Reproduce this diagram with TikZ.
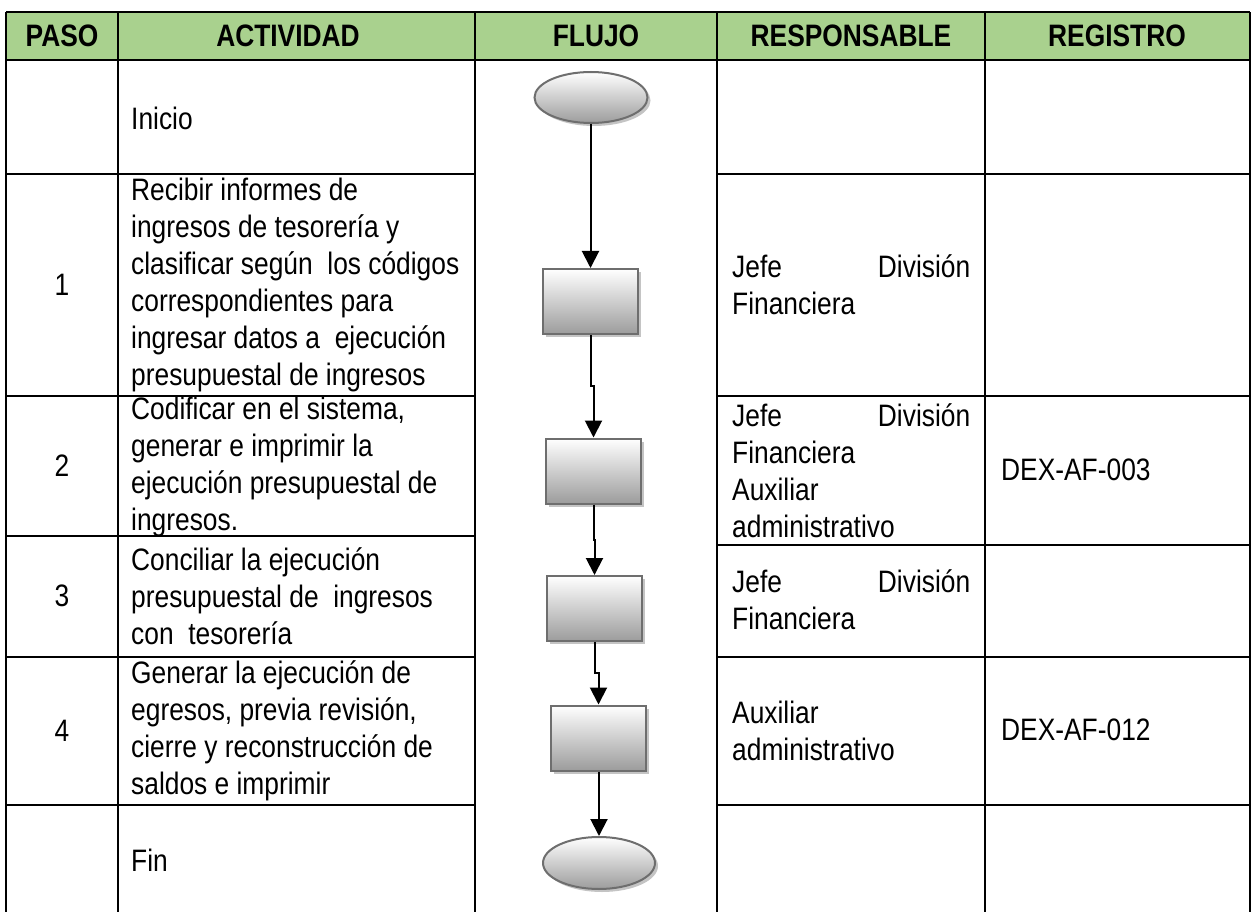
\documentclass[tikz,border=0pt]{standalone}
\usepackage{fontspec}
\setmainfont{Liberation Sans}[FakeStretch=0.85]
\usetikzlibrary{arrows.meta,shapes.geometric,shadows,calc}
\definecolor{hdr}{HTML}{A9D18E}
\definecolor{shapeborder}{HTML}{6E6E6E}
\definecolor{shapebottom}{HTML}{9C9C9C}
\definecolor{shadowgray}{HTML}{C4C4C4}
\begin{document}
\begin{tikzpicture}[x=1pt,y=-1pt,
  grid/.style={line width=1.8pt,black},
  hdrtext/.style={font=\fontsize{31}{37}\selectfont\bfseries, anchor=center, inner sep=0pt},
  body/.style={font=\fontsize{31}{37}\selectfont, align=left, anchor=west, inner sep=0pt},
  num/.style={font=\fontsize{31}{37}\selectfont, anchor=center, inner sep=0pt},
  myshadow/.style={drop shadow={shadow xshift=3pt, shadow yshift=-3pt, fill=shadowgray, opacity=1}},
  procbox/.style={rectangle, draw=shapeborder, line width=2pt, minimum width=95pt, minimum height=65pt, inner sep=0pt, top color=white, bottom color=shapebottom, myshadow},
  termnode/.style={ellipse, draw=shapeborder, line width=2pt, minimum width=113pt, minimum height=51pt, inner sep=0pt, top color=white, bottom color=shapebottom, myshadow},
  flow/.style={line width=2pt, -{Triangle[width=17pt,length=17pt]}}
]
\useasboundingbox (0,0) rectangle (1256,912);
\fill[white] (0,0) rectangle (1256,912);
% header
\fill[hdr] (6,12) rectangle (1250,60);
% grid
\draw[grid] (6,12) -- (1250,12);
\draw[grid] (6,60) -- (1250,60);
\foreach \x in {6,118,475,717,985,1250} {\draw[grid] (\x,12) -- (\x,912);}
\foreach \y in {174,396,536,657,805} {\draw[grid] (6,\y) -- (475,\y);}
\foreach \y in {174,396,545,657,805} {\draw[grid] (717,\y) -- (1250,\y);}
% header texts
\node[hdrtext] (hpaso) at (62,36) {PASO};
\node[hdrtext] (hact) at (288,36) {ACTIVIDAD};
\node[hdrtext] (hflujo) at (596,36) {FLUJO};
\node[hdrtext] (hresp) at (851,36) {RESPONSABLE};
\node[hdrtext] (hreg) at (1117,36) {REGISTRO};
% paso numbers
\node[num] (n1) at (62,285) {1};
\node[num] (n2) at (62,466) {2};
\node[num] (n3) at (62,596) {3};
\node[num] (n4) at (62,731) {4};
% activities
\node[body] (a0) at (131,118) {Inicio};
\node[body] (a1) at (131,285) {Recibir informes de\\ingresos de tesorería y\\clasificar según\ \ los códigos\\correspondientes para\\ingresar datos a\ \ ejecución\\presupuestal de ingresos};
\node[body] (a2) at (131,467) {Codificar en el sistema,\\generar e imprimir la\\ejecución presupuestal de\\ingresos.};
\node[body] (a3) at (131,596) {Conciliar la ejecución\\presupuestal de\ \ ingresos\\con\ \ tesorería};
\node[body] (a4) at (131,731) {Generar la ejecución de\\egresos, previa revisión,\\cierre y reconstrucción de\\saldos e imprimir};
\node[body] (a5) at (131,860) {Fin};
% responsables
\node[body] (r1) at (732,285) {\hbox to 238pt{Jefe\hfill División}\\Financiera};
\node[body] (r2) at (732,471) {\hbox to 238pt{Jefe\hfill División}\\Financiera\\Auxiliar\\administrativo};
\node[body] (r3) at (732,600) {\hbox to 238pt{Jefe\hfill División}\\Financiera};
\node[body] (r4) at (732,731) {Auxiliar\\administrativo};
% registros
\node[body] (g2) at (1001,470) {DEX-AF-003};
\node[body] (g4) at (1001,730) {DEX-AF-012};
% flow shapes
\node[termnode] (S) at (591,97.5) {};
\node[procbox] (R1) at (590.5,301.5) {};
\node[procbox] (R2) at (593.5,471) {};
\node[procbox] (R3) at (594.5,608.5) {};
\node[procbox] (R4) at (598.5,738) {};
\node[termnode,minimum width=112pt,minimum height=52pt] (E) at (599,863) {};
% connectors
\coordinate (m0) at ($(S.south)!0.5!(R1.north)$);
\coordinate (m1) at ($(R1.south)!0.5!(R2.north)$);
\coordinate (m2) at ($(R2.south)!0.5!(R3.north)$);
\coordinate (m3) at ($(R3.south)!0.5!(R4.north)$);
\coordinate (m4) at ($(R4.south)!0.5!(E.north)$);
\draw[flow] (S.south) |- (m0) -| (R1.north);
\draw[flow] (R1.south) |- (m1) -| (R2.north);
\draw[flow] (R2.south) |- (m2) -| (R3.north);
\draw[flow] (R3.south) |- (m3) -| (R4.north);
\draw[flow] (R4.south) |- (m4) -| (E.north);
\end{tikzpicture}
\end{document}
